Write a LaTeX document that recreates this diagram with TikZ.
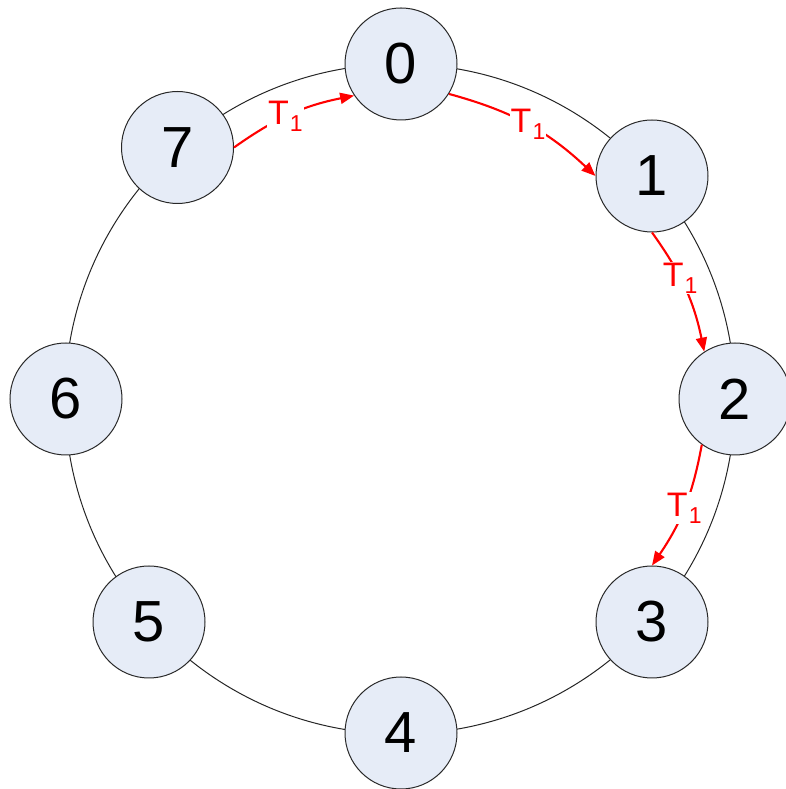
\documentclass[tikz,border=0pt]{standalone}
\usepackage{fontspec}
\setmainfont{Liberation Sans}
\usetikzlibrary{arrows.meta}
\definecolor{nodefill}{RGB}{230,236,247}
\definecolor{nodeline}{RGB}{40,40,40}
\tikzset{
  ringnode/.style={circle, draw=nodeline, line width=1pt, fill=nodefill, minimum size=112pt, inner sep=0pt, font=\fontsize{58}{58}\selectfont},
  ringline/.style={draw=black!85, line width=1pt},
  hop/.style={draw=red, line width=2.1pt, -{Triangle[length=14pt,width=11pt]}},
  hoplabel/.style={fill=white, text=red, inner sep=1pt, font=\fontsize{34}{34}\selectfont}
}
\newcommand{\tone}{T\hspace{1pt}\raisebox{-7pt}{\fontsize{23}{23}\selectfont 1}}
\begin{document}
\begin{tikzpicture}[x=1pt,y=1pt]
\useasboundingbox (0,0) rectangle (786,789);
\draw[ringline] (400,390) circle (335);
\node[ringnode] (n0) at (401,725) {0};
\node[ringnode] (n1) at (652,613) {1};
\node[ringnode] (n2) at (735,390) {2};
\node[ringnode] (n3) at (652,167) {3};
\node[ringnode] (n4) at (401,56) {4};
\node[ringnode] (n5) at (149,167) {5};
\node[ringnode] (n6) at (66,390) {6};
\node[ringnode] (n7) at (177.5,641.5) {7};
\draw[hop] (n7.0) to[bend left=12] node[hoplabel, pos=0.45] {\tone} (n0.214);
\draw[hop] (n0.-32) to[bend left=14] node[hoplabel, pos=0.5] {\tone} (n1.180);
\draw[hop] (n1.-90) to[bend left=12] node[hoplabel, pos=0.4] {\tone} (n2.123);
\draw[hop] (n2.234) to[bend left=12] node[hoplabel, pos=0.5] {\tone} (n3.90);
\end{tikzpicture}
\end{document}
